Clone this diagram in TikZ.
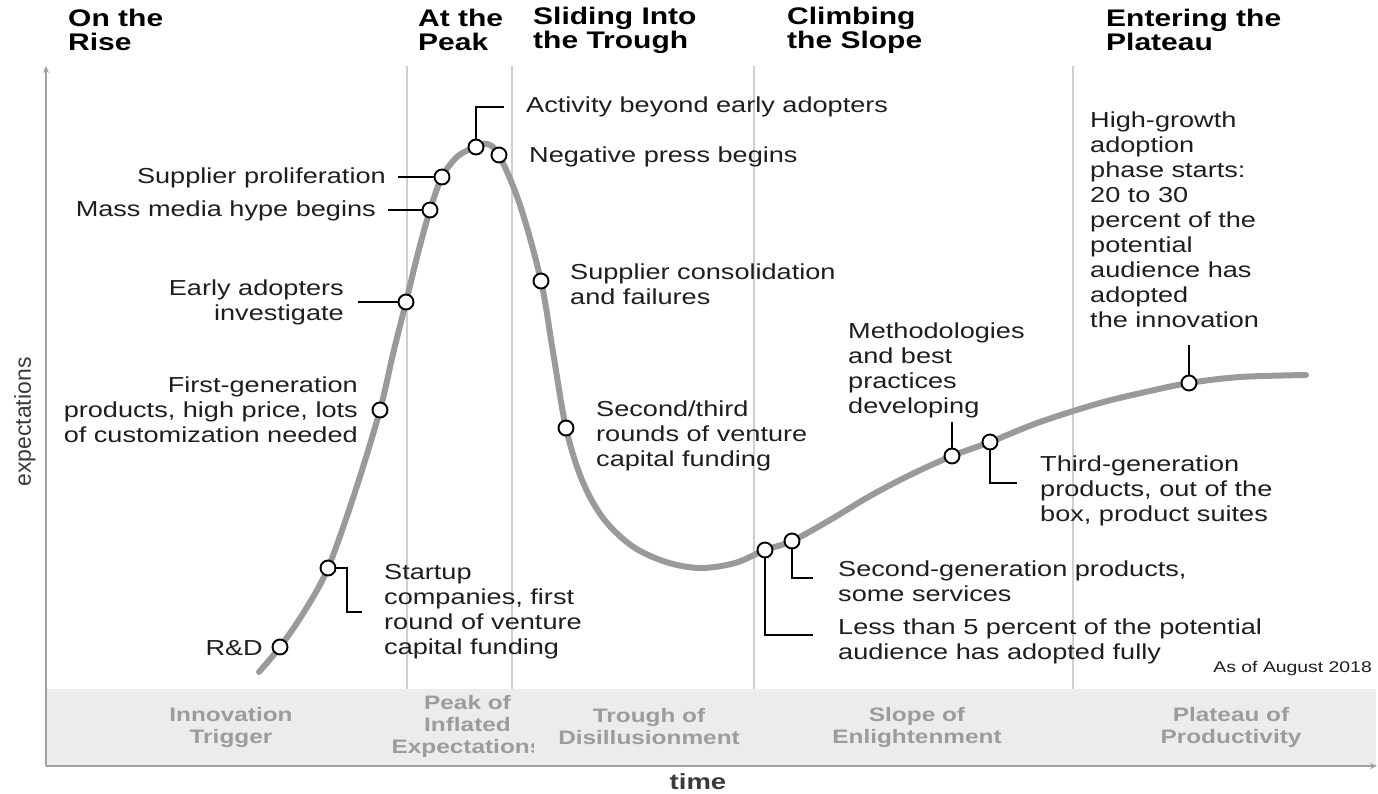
\documentclass[tikz,border=0pt]{standalone}
\usepackage{fontspec}
\setmainfont{Liberation Sans}[FakeStretch=1.25]
\newfontfamily\axisfont{Liberation Sans}
\usetikzlibrary{arrows.meta}
\definecolor{curvegray}{HTML}{9A9A9A}
\definecolor{bandfill}{HTML}{ECECEC}
\definecolor{bandtext}{HTML}{9C9C9C}
\definecolor{sepgray}{HTML}{CFCFCF}
\definecolor{axisgray}{HTML}{A0A0A0}
\definecolor{labeltext}{HTML}{1E1E1E}
\definecolor{axistext}{HTML}{3A3A3A}
\tikzset{
  lbl/.style={inner sep=0pt, text=labeltext, font=\fontsize{21.7}{25}\selectfont},
  hdr/.style={inner sep=0pt, text=black, align=left, anchor=west, font=\fontsize{24}{24}\selectfont\bfseries},
  bandlbl/.style={inner sep=0pt, text=bandtext, align=center, font=\fontsize{19.5}{22}\selectfont\bfseries},
  hdot/.style={circle, draw=black, fill=white, line width=1.9pt, minimum size=15pt, inner sep=0pt},
  lead/.style={draw=black, line width=1.8pt},
  septline/.style={draw=sepgray, line width=1.6pt},
}
\begin{document}
\begin{tikzpicture}[x=1pt, y=-1pt]
\useasboundingbox (0,0) rectangle (1378,793);
% band
\fill[bandfill] (46,689) rectangle (1376,766);
% separators
\foreach \xx in {407,512,754,1073}{
  \draw[septline] (\xx,66) -- (\xx,689);
}
% axes
\coordinate (orig) at (46,766);
\coordinate (ytop) at (46,66);
\coordinate (xend) at (1377,766);
\draw[axisgray, line width=2.4pt, -{Stealth[length=7pt,width=6pt]}] (orig) -- (ytop);
\draw[axisgray, line width=2.4pt, -{Stealth[length=7pt,width=6pt]}] (orig) -- (xend);
% headers
\node[hdr] (h1) at (68,30) {On the\\Rise};
\node[hdr] (h2) at (418,30) {At the\\Peak};
\node[hdr] (h3) at (533,30) {Sliding Into\\the Trough};
\node[hdr] (h4) at (787,30) {Climbing\\the Slope};
\node[hdr] (h5) at (1106,30) {Entering the\\Plateau};
% band labels
\node[bandlbl] (b1) at (231,727) {Innovation\\Trigger};
\begin{scope}
\clip (380,690) rectangle (533,766);
\node[bandlbl] (b2) at (467.5,726) {Peak of\\Inflated\\Expectations};
\end{scope}
\node[bandlbl] (b3) at (649,727) {Trough of\\Disillusionment};
\node[bandlbl] (b4) at (917,727) {Slope of\\Enlightenment};
\node[bandlbl] (b5) at (1231,727) {Plateau of\\Productivity};
% axis titles
\node[inner sep=0pt, text=axistext, font=\fontsize{22}{22}\selectfont\bfseries] (tm) at (698,782) {time};
\node[inner sep=0pt, text=axistext, rotate=90, font=\axisfont\fontsize{23}{23}\selectfont] (ex) at (25,422) {expectations};
% curve
\draw[curvegray, line width=6pt, line cap=round] plot[smooth, tension=0.55] coordinates {
 (259,672) (280,647) (304,612) (328,568) (355,492) (380,410) (393,354) (406,302)
 (418,253) (430,210) (442,177) (458,156) (476,147) (487,144) (499,155) (520,205)
 (541,281) (553,352) (566,428) (582,480) (603,518) (632,546) (666,562) (700,568)
 (735,563) (765,550) (792,541) (830,520) (870,496) (910,475) (952,456) (990,442)
 (1040,422) (1100,403) (1150,391) (1189,383) (1240,377) (1306,375)};
% dots
\node[hdot] (cRD) at (280,647) {};
\node[hdot] (cSU) at (328,568) {};
\node[hdot] (cFG) at (380,410) {};
\node[hdot] (cEA) at (406,302) {};
\node[hdot] (cMM) at (430,210) {};
\node[hdot] (cSP) at (442,177) {};
\node[hdot] (cAB) at (476,147) {};
\node[hdot] (cNP) at (499,155) {};
\node[hdot] (cSC) at (541,281) {};
\node[hdot] (cST) at (566,428) {};
\node[hdot] (cL5) at (765,550) {};
\node[hdot] (cSG) at (792,541) {};
\node[hdot] (cMB) at (952,456) {};
\node[hdot] (cTG) at (990,442) {};
\node[hdot] (cHG) at (1189,383) {};
% leader end points
\coordinate (kSU) at (347,612);
\coordinate (eSU) at (362,612);
\coordinate (eEA) at (358,302);
\coordinate (eMM) at (388,210);
\coordinate (eSP) at (398,177);
\coordinate (eAB) at (504,107);
\coordinate (eL5) at (813,635);
\coordinate (eSG) at (813,578);
\coordinate (eMB) at (952,422);
\coordinate (eTG) at (1017,483);
\coordinate (eHG) at (1189,345);
% leaders
\draw[lead] (cSU.east) -| (kSU) -- (eSU);
\draw[lead] (eEA) -- (cEA.west);
\draw[lead] (eMM) -- (cMM.west);
\draw[lead] (eSP) -- (cSP.west);
\draw[lead] (cAB.north) |- (eAB);
\draw[lead] (cL5.south) |- (eL5);
\draw[lead] (cSG.south) |- (eSG);
\draw[lead] (cMB.north) -- (eMB);
\draw[lead] (cTG.south) |- (eTG);
\draw[lead] (cHG.north) -- (eHG);
% labels
\node[lbl, anchor=east] (tRD) at (263,648) {R\&D};
\node[lbl, anchor=west, align=left] (tSU) at (384,611.5) {Startup\\companies, first\\round of venture\\capital funding};
\node[lbl, anchor=east, align=right] (tFG) at (358,410) {First-generation\\products, high price, lots\\of customization needed};
\node[lbl, anchor=east, align=right] (tEA) at (344,302.5) {Early adopters\\investigate};
\node[lbl, anchor=east] (tMM) at (376,211) {Mass media hype begins};
\node[lbl, anchor=east] (tSP) at (386,178) {Supplier proliferation};
\node[lbl, anchor=west] (tAB) at (526,107) {Activity beyond early adopters};
\node[lbl, anchor=west] (tNP) at (529,157) {Negative press begins};
\node[lbl, anchor=west, align=left] (tSC) at (570,284.5) {Supplier consolidation\\and failures};
\node[lbl, anchor=west, align=left] (tST) at (596,435.5) {Second/third\\rounds of venture\\capital funding};
\node[lbl, anchor=west, align=left] (tMB) at (848,370) {Methodologies\\and best\\practices\\developing};
\node[lbl, anchor=west, align=left] (tTG) at (1040,491) {Third-generation\\products, out of the\\box, product suites};
\node[lbl, anchor=west, align=left] (tSG) at (838,581.5) {Second-generation products,\\some services};
\node[lbl, anchor=west, align=left] (tL5) at (838,641.5) {Less than 5 percent of the potential\\audience has adopted fully};
\node[lbl, anchor=west, align=left] (tHG) at (1090,220) {High-growth\\adoption\\phase starts:\\20 to 30\\percent of the\\potential\\audience has\\adopted\\the innovation};
\node[inner sep=0pt, text=labeltext, anchor=east, font=\fontsize{15.5}{16}\selectfont] (tAO) at (1372,668) {As of August 2018};
\end{tikzpicture}
\end{document}
